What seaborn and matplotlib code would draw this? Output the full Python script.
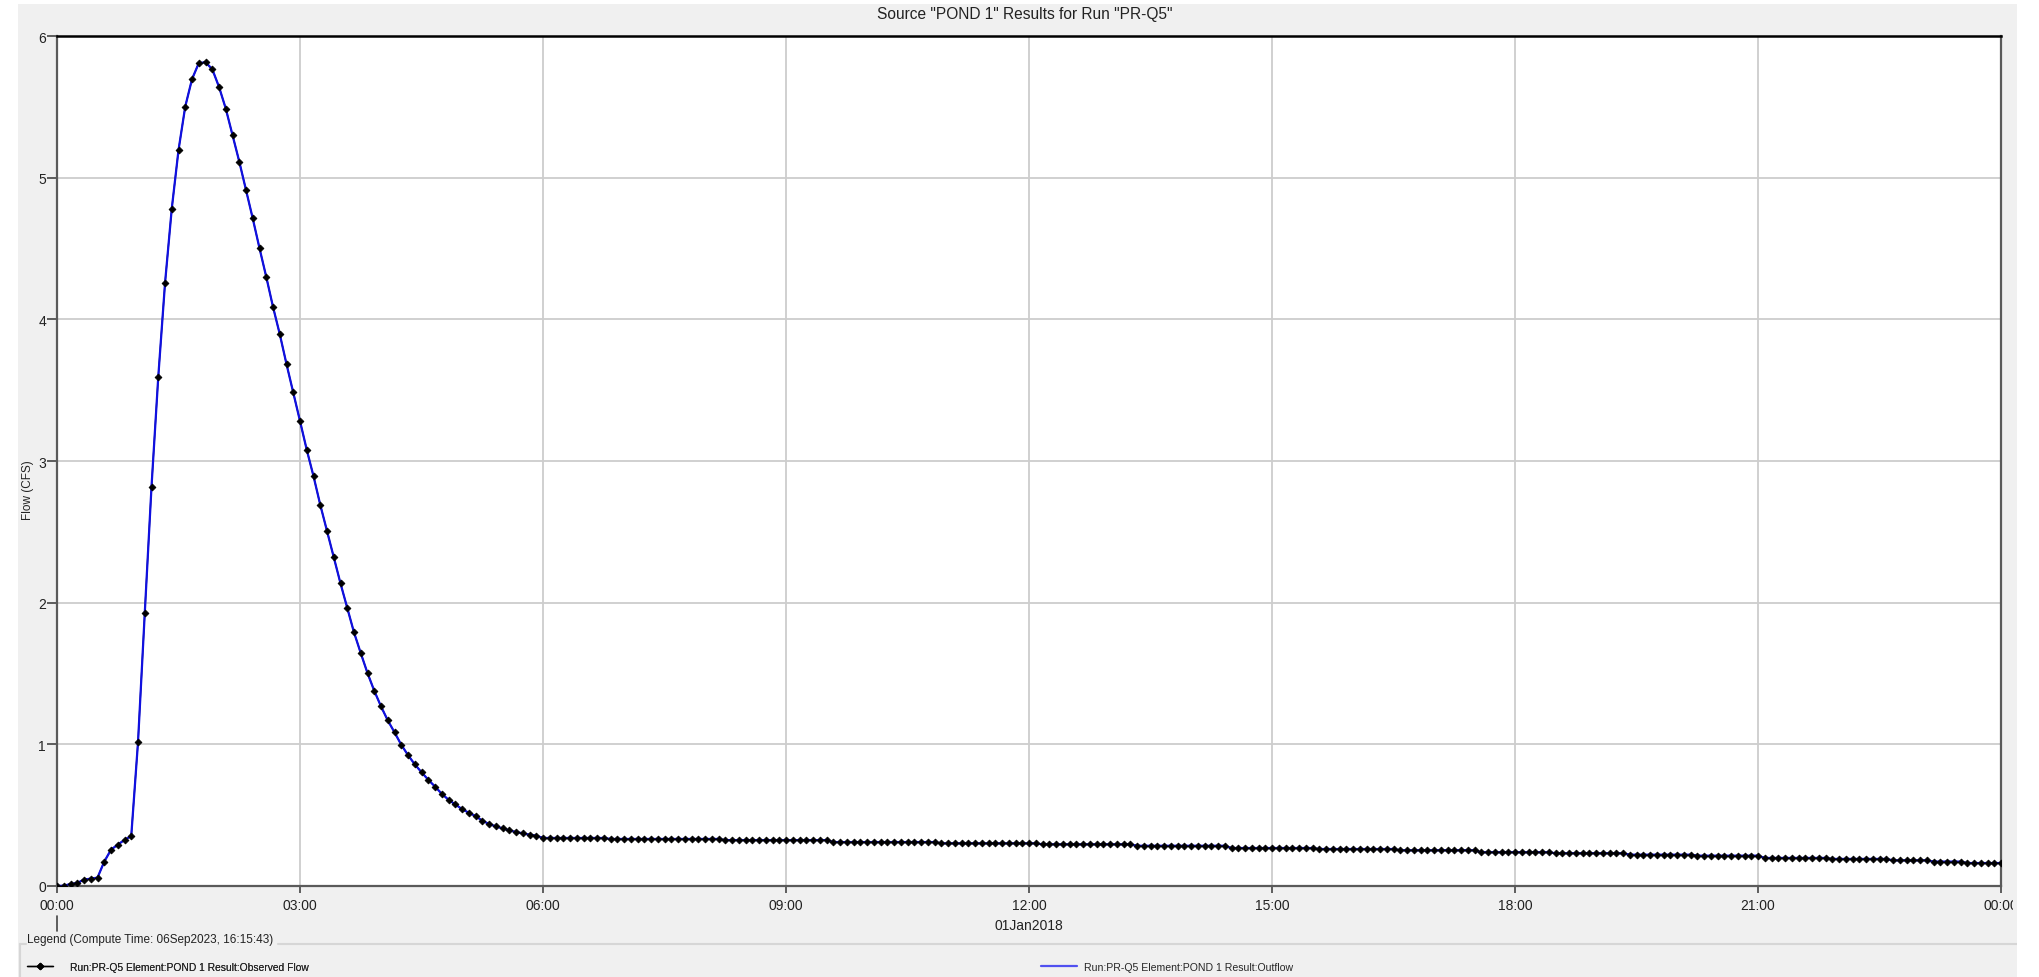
import matplotlib
matplotlib.use("Agg")
import numpy as np
import pandas as pd
import matplotlib.pyplot as plt
import matplotlib.dates as mdates
from matplotlib.lines import Line2D
from matplotlib.patches import Rectangle
import seaborn as sns

# POND 1 flow (cfs), one value every 5 minutes, 01Jan2018 00:00 -> 02Jan2018 00:00
observed_cfs = [
    0.000, 0.002, 0.014, 0.021, 0.045, 0.052, 0.059, 0.172, 0.256, 0.292, 0.325, 0.353,  # 00:00
    1.014, 1.924, 2.818, 3.592, 4.253, 4.780, 5.194, 5.502, 5.695, 5.808, 5.815, 5.766,  # 01:00
    5.641, 5.488, 5.300, 5.114, 4.912, 4.712, 4.502, 4.300, 4.088, 3.896, 3.684, 3.484,  # 02:00
    3.282, 3.079, 2.893, 2.691, 2.505, 2.322, 2.136, 1.962, 1.790, 1.644, 1.503, 1.378,  # 03:00
    1.268, 1.169, 1.085, 0.997, 0.924, 0.859, 0.803, 0.750, 0.702, 0.651, 0.609, 0.576,  # 04:00
    0.543, 0.517, 0.494, 0.461, 0.438, 0.421, 0.407, 0.393, 0.381, 0.372, 0.362, 0.355,  # 05:00
    0.339, 0.339, 0.339, 0.339, 0.339, 0.339, 0.339, 0.339, 0.339, 0.339, 0.332, 0.332,  # 06:00
    0.332, 0.332, 0.332, 0.332, 0.332, 0.332, 0.332, 0.332, 0.332, 0.332, 0.332, 0.332,  # 07:00
    0.332, 0.332, 0.332, 0.324, 0.324, 0.324, 0.324, 0.324, 0.324, 0.324, 0.324, 0.324,  # 08:00
    0.324, 0.324, 0.324, 0.324, 0.324, 0.324, 0.324, 0.310, 0.310, 0.310, 0.310, 0.310,  # 09:00
    0.310, 0.310, 0.310, 0.310, 0.310, 0.310, 0.310, 0.310, 0.310, 0.310, 0.310, 0.301,  # 10:00
    0.301, 0.301, 0.301, 0.301, 0.301, 0.301, 0.301, 0.301, 0.301, 0.301, 0.301, 0.301,  # 11:00
    0.301, 0.301, 0.294, 0.294, 0.294, 0.294, 0.294, 0.294, 0.294, 0.294, 0.294, 0.294,  # 12:00
    0.294, 0.294, 0.294, 0.294, 0.284, 0.284, 0.284, 0.284, 0.284, 0.284, 0.284, 0.284,  # 13:00
    0.284, 0.284, 0.284, 0.284, 0.284, 0.284, 0.268, 0.268, 0.268, 0.268, 0.268, 0.268,  # 14:00
    0.268, 0.268, 0.268, 0.268, 0.268, 0.268, 0.268, 0.261, 0.261, 0.261, 0.261, 0.261,  # 15:00
    0.261, 0.261, 0.261, 0.261, 0.261, 0.261, 0.261, 0.252, 0.252, 0.252, 0.252, 0.252,  # 16:00
    0.252, 0.252, 0.252, 0.252, 0.252, 0.252, 0.252, 0.238, 0.238, 0.238, 0.238, 0.238,  # 17:00
    0.238, 0.238, 0.238, 0.238, 0.238, 0.238, 0.231, 0.231, 0.231, 0.231, 0.231, 0.231,  # 18:00
    0.231, 0.231, 0.231, 0.231, 0.231, 0.221, 0.221, 0.221, 0.221, 0.221, 0.221, 0.221,  # 19:00
    0.221, 0.221, 0.221, 0.214, 0.214, 0.214, 0.214, 0.214, 0.214, 0.214, 0.214, 0.214,  # 20:00
    0.214, 0.198, 0.198, 0.198, 0.198, 0.198, 0.198, 0.198, 0.198, 0.198, 0.198, 0.191,  # 21:00
    0.191, 0.191, 0.191, 0.191, 0.191, 0.191, 0.191, 0.191, 0.181, 0.181, 0.181, 0.181,  # 22:00
    0.181, 0.181, 0.172, 0.172, 0.172, 0.172, 0.172, 0.162, 0.162, 0.162, 0.162, 0.162,  # 23:00
    0.162,                                                                               # 24:00
]
# The routed outflow coincides with the observed hydrograph
outflow_cfs = list(observed_cfs)

run_start = "2018-01-01 00:00"
step = "5min"
title = 'Source "POND 1" Results for Run "PR-Q5"'
y_label = "Flow (CFS)"
date_label = "01Jan2018"
legend_title = "Legend (Compute Time: 06Sep2023, 16:15:43)"
observed_name = "Run:PR-Q5 Element:POND 1 Result:Observed Flow"
outflow_name = "Run:PR-Q5 Element:POND 1 Result:Outflow"
y_ticks = [0, 1, 2, 3, 4, 5, 6]

times = pd.date_range(run_start, periods=len(observed_cfs), freq=step)
df = pd.DataFrame({"time": times, "observed": observed_cfs, "outflow": outflow_cfs})

sns.set_theme(style="white")
plt.rcParams["font.family"] = ["Liberation Sans", "DejaVu Sans"]

W, H = 2040, 978
fig = plt.figure(figsize=(W / 100, H / 100), dpi=100, facecolor="white")


def fx(x):
    return x / W


def fy(y):
    return 1 - y / H


PANEL = "#f0f0f0"
fig.patches.append(Rectangle((fx(18), 0), fx(2017) - fx(18), fy(5),
                             transform=fig.transFigure, facecolor=PANEL,
                             edgecolor="none", zorder=-10))

ax = fig.add_axes([fx(57), fy(887), fx(2001) - fx(57), fy(37) - fy(887)])
ax.set_zorder(1)
ax.set_facecolor("white")

# observed series: thin black line, then the blue outflow on top, markers above both
sns.lineplot(data=df, x="time", y="observed", ax=ax, color="black", lw=1.0,
             zorder=2, legend=False)
sns.lineplot(data=df, x="time", y="outflow", ax=ax, color="#1010e0", lw=1.6,
             zorder=3, legend=False)
sns.scatterplot(data=df, x="time", y="observed", ax=ax, color="black",
                marker="D", s=12, linewidth=0.6, edgecolor="black",
                zorder=4, legend=False)

t0 = times[0]
ax.set_xlim(t0, t0 + pd.Timedelta(days=1))
ax.set_ylim(0, 6)
ax.set_yticks(y_ticks)
ax.xaxis.set_major_locator(mdates.HourLocator(interval=3))
ax.xaxis.set_major_formatter(mdates.DateFormatter("%H:%M"))
ax.set_xlabel("")
ax.set_ylabel("")

ax.grid(True, color="#cdcdcd", lw=1.3)
ax.set_axisbelow(True)
for side in ["left", "bottom", "right"]:
    ax.spines[side].set_color("#5a5a5a")
    ax.spines[side].set_linewidth(1.6)
ax.spines["top"].set_color("black")
ax.spines["top"].set_linewidth(1.8)

ax.tick_params(axis="x", bottom=True, length=5, width=1.2, color="#444444",
               pad=4, labelsize=10, labelcolor="#222222")
ax.tick_params(axis="y", left=True, length=7, width=1.2, color="#444444",
               pad=1, labelsize=10, labelcolor="#222222")

fig.text(fx(1025), fy(15), title, ha="center", va="center", fontsize=11.2,
         color="#222222")
fig.text(fx(28), fy(490), y_label, ha="center", va="center", rotation=90,
         fontsize=8.5, color="#222222")
fig.text(fx(1029), fy(926), date_label, ha="center", va="center", fontsize=10,
         color="#222222")
# day boundary marker under the time labels
fig.lines.append(Line2D([fx(57), fx(57)], [fy(917), fy(932)], transform=fig.transFigure,
                        color="#444444", lw=1.2))

# legend frame with its caption sitting on the top edge
frame_c = "#d6d6d6"
fig.lines.append(Line2D([fx(20), fx(26)], [fy(945), fy(945)], transform=fig.transFigure,
                        color=frame_c, lw=1.5))
fig.lines.append(Line2D([fx(278), fx(2017)], [fy(945), fy(945)], transform=fig.transFigure,
                        color=frame_c, lw=1.5))
fig.lines.append(Line2D([fx(20), fx(20)], [fy(945), 0], transform=fig.transFigure,
                        color=frame_c, lw=1.5))
fig.text(fx(27), fy(940), legend_title, ha="left", va="center", fontsize=8.5,
         color="#222222")

h_obs = Line2D([], [], color="black", lw=1.0, marker="D", markersize=3.2)
h_out = Line2D([], [], color="#5050f0", lw=1.6)
leg1 = fig.legend(handles=[h_obs], labels=[observed_name], loc="center left",
                  bbox_to_anchor=(fx(27), fy(968)), frameon=False, fontsize=7.4,
                  handlelength=2.5, handletextpad=1.7, borderpad=0, borderaxespad=0)
leg2 = fig.legend(handles=[h_out], labels=[outflow_name], loc="center left",
                  bbox_to_anchor=(fx(1041), fy(968)), frameon=False, fontsize=7.6,
                  handlelength=3.4, handletextpad=0.7, borderpad=0, borderaxespad=0)
fig.add_artist(leg1)

# the time-label strip is clipped just before the panel edge
fig.patches.append(Rectangle((fx(2013), fy(916)), fx(2017) - fx(2013), fy(893) - fy(916),
                             transform=fig.transFigure, facecolor=PANEL,
                             edgecolor="none", zorder=10))
# white margin to the right of the panel
fig.patches.append(Rectangle((fx(2017), 0), 1 - fx(2017), 1, transform=fig.transFigure,
                             facecolor="white", edgecolor="none", zorder=10))

fig.savefig("out.png", dpi=100, facecolor="white")
